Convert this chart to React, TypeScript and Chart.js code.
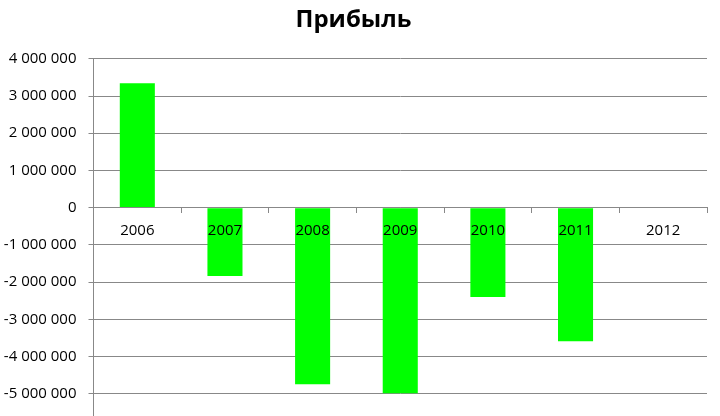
import React, { useEffect, useRef } from "react";
import { Chart, registerables } from "chart.js";

Chart.register(...registerables);

const TITLE = "Прибыль";
const YEARS = ["2006", "2007", "2008", "2009", "2010", "2011", "2012"];
const PROFIT = [3340000, -1840000, -4750000, -4990000, -2400000, -3590000, 0];
const Y_TICKS = [
  -5000000, -4000000, -3000000, -2000000, -1000000, 0, 1000000, 2000000,
  3000000, 4000000,
];
const Y_MAX = 4000000;
const Y_MIN = -5600000;

const fmt = (v: number) => {
  const s = Math.abs(v).toString().replace(/\B(?=(\d{3})+(?!\d))/g, " ");
  return (v < 0 ? "-" : "") + s;
};

export default function App() {
  const ref = useRef<HTMLCanvasElement | null>(null);

  useEffect(() => {
    if (!ref.current) return;
    const chart = new Chart(ref.current, {
      type: "bar",
      data: {
        labels: YEARS,
        datasets: [
          {
            data: PROFIT,
            backgroundColor: "#00FF00",
            borderWidth: 0,
            barPercentage: 0.4,
            categoryPercentage: 1,
          },
        ],
      },
      options: {
        responsive: false,
        animation: false,
        layout: { padding: { left: 0, right: 13, top: 0, bottom: 0 } },
        plugins: {
          legend: { display: false },
          tooltip: { enabled: false },
          title: {
            display: true,
            text: TITLE,
            color: "#000",
            font: { family: "'Open Sans'", size: 24, weight: "bold" },
            padding: { top: 6, bottom: 24 },
          },
        },
        scales: {
          x: {
            position: { y: 0 } as any,
            z: 1,
            offset: true,
            grid: {
              offset: true,
              drawOnChartArea: false,
              drawTicks: true,
              tickLength: 5,
              color: "#888888",
              z: 1,
            },
            border: { display: true, color: "#888888", width: 1, z: 1 } as any,
            ticks: {
              autoSkip: false,
              color: "#000",
              padding: 9,
              maxRotation: 0,
              z: 1,
              font: { family: "'Open Sans'", size: 15 },
            },
          },
          y: {
            min: Y_MIN,
            max: Y_MAX,
            afterBuildTicks: (scale: any) => {
              scale.ticks = Y_TICKS.map((v) => ({ value: v }));
            },
            afterFit: (scale: any) => {
              scale.width = 93.5;
              scale.paddingTop = 0;
              scale.paddingBottom = 0;
            },
            ticks: {
              autoSkip: false,
              color: "#000",
              padding: 12,
              font: { family: "'Open Sans'", size: 15 },
              callback: (v: any) => fmt(Number(v)),
            },
            grid: {
              color: "#888888",
              tickLength: 5,
              drawTicks: true,
            },
            border: { display: true, color: "#888888", width: 1 },
          },
        },
      },
    });
    return () => chart.destroy();
  }, []);

  return (
    <div
      style={{
        position: "absolute",
        left: 0,
        top: 0,
        width: 720,
        height: 416,
        background: "#fff",
        overflow: "hidden",
      }}
    >
      <canvas ref={ref} width={720} height={416} />
    </div>
  );
}
